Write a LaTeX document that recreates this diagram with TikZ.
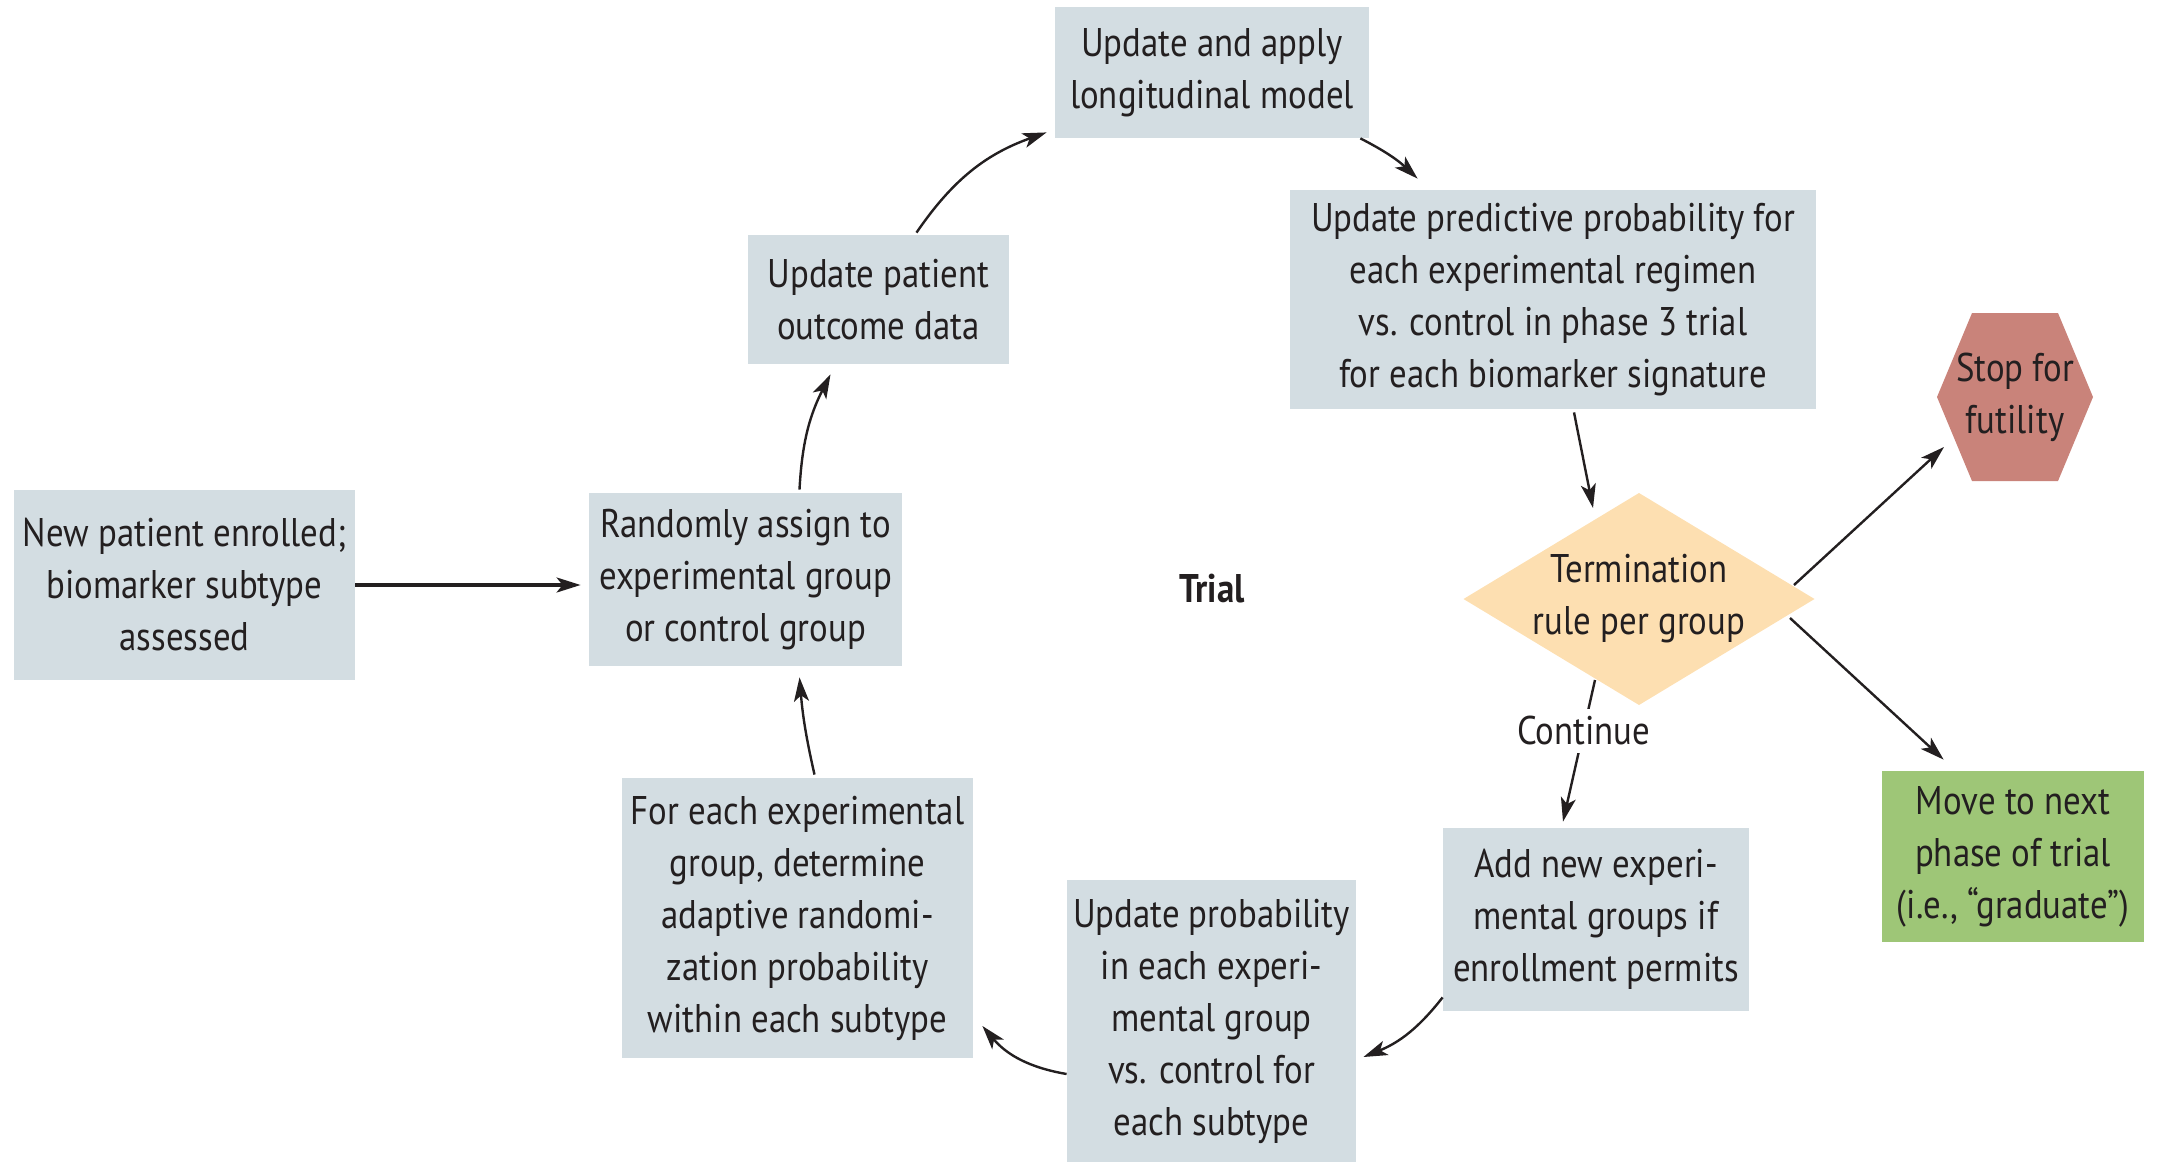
\documentclass[tikz,border=0pt]{standalone}
\usepackage{fontspec}
\setmainfont{PT Sans}[FakeStretch=0.87]
\usetikzlibrary{arrows.meta,calc}
\definecolor{boxblue}{HTML}{D3DDE2}
\definecolor{peach}{HTML}{FDDFB1}
\definecolor{futile}{HTML}{C9837A}
\definecolor{grad}{HTML}{9EC677}
\definecolor{ink}{HTML}{231F20}
\begin{document}
\begin{tikzpicture}[x=0.5pt,y=-0.5pt,
  txt/.style={align=center, text=ink, font=\fontsize{20}{26}\selectfont},
  box/.style={txt, fill=boxblue, inner sep=0pt},
  arr/.style={-{Stealth[length=12pt,width=7.5pt,inset=3pt]}, line width=1.2pt, draw=ink}]
\useasboundingbox (0,0) rectangle (2159,1162);

% process boxes
\node[box, minimum width=170.5pt, minimum height=95pt] (enroll) at (184.5,585) {New patient enrolled;\\biomarker subtype\\assessed};
\node[box, minimum width=156.5pt, minimum height=86.5pt] (rand) at (745.5,579.5) {Randomly assign to\\experimental group\\or control group};
\node[box, minimum width=130.5pt, minimum height=64.5pt] (outcome) at (878.5,299.5) {Update patient\\outcome data};
\node[box, minimum width=157pt, minimum height=65.5pt] (longi) at (1212,72.5) {Update and apply\\longitudinal model};
\node[box, minimum width=263pt, minimum height=109.5pt] (pred) at (1553,299.5) {Update predictive probability for\\each experimental regimen\\vs. control in phase 3 trial\\for each biomarker signature};
\node[box, minimum width=153pt, minimum height=91.5pt] (add) at (1596,919.5) {Add new experi-\\mental groups if\\enrollment permits};
\node[box, minimum width=144.5pt, minimum height=141pt] (updprob) at (1211.5,1021) {Update probability\\in each experi-\\mental group\\vs. control for\\each subtype};
\node[box, minimum width=175.5pt, minimum height=140pt] (foreach) at (797.5,918) {For each experimental\\group, determine\\adaptive randomi-\\zation probability\\within each subtype};

% outcomes
\node[box, fill=grad, minimum width=131pt, minimum height=85.5pt] (move) at (2013,856.5) {Move to next\\phase of trial\\(i.e., “graduate”)};
\fill[futile] (1937,397) -- (1972,313) -- (2058,313) -- (2093,397) -- (2058,481) -- (1972,481) -- cycle;
\node[txt, inner sep=0pt] (stop) at (2015,397) {Stop for\\futility};

% decision
\fill[peach] (1463.5,599) -- (1639,493) -- (1814.5,599) -- (1639,705) -- cycle;
\node[txt, inner sep=0pt] (dia) at (1639,599) {Termination\\rule per group};

\node[txt, font=\fontsize{20}{26}\selectfont\bfseries] (trial) at (1212,589) {Trial};

% connectors
\draw[arr, line width=1.6pt, shorten >=4pt] (enroll.east) -- (enroll.east -| rand.west);
\draw[arr] ($(rand.north)+(54,-3)$) to[bend left=12] ($(outcome.south)+(-48,10)$);
\draw[arr] ($(outcome.north)+(38,-2)$) to[bend left=18] ($(longi.south west)+(-8,-6)$);
\draw[arr] ($(longi.south east)+(-9,0)$) to[bend left=8] ($(pred.north west)+(128,-11)$);
\draw[arr] ($(pred.south)+(21,3)$) -- ($(dia)+(-46,-91)$);
\draw[arr] ($(dia)+(155,-14)$) -- ($(stop)+(-71,50)$);
\draw[arr] ($(dia)+(151,19)$) -- ($(move.north west)+(62,-11)$);
\draw[arr] ($(dia)+(-44,81)$) -- node[pos=0.36, txt, fill=white, inner sep=4pt] (cont) {Continue} ($(add.north)+(-33,-6)$);
\draw[arr] ($(add.south west)+(0,-14)$) to[bend left=15] ($(updprob.east)+(7,36)$);
\draw[arr] ($(updprob.west)+(0,53)$) to[bend left=20] ($(foreach.east)+(9,108)$);
\draw[arr] ($(foreach.north)+(17,-3)$) to[bend left=4] ($(rand.south)+(54,11)$);
\end{tikzpicture}
\end{document}
